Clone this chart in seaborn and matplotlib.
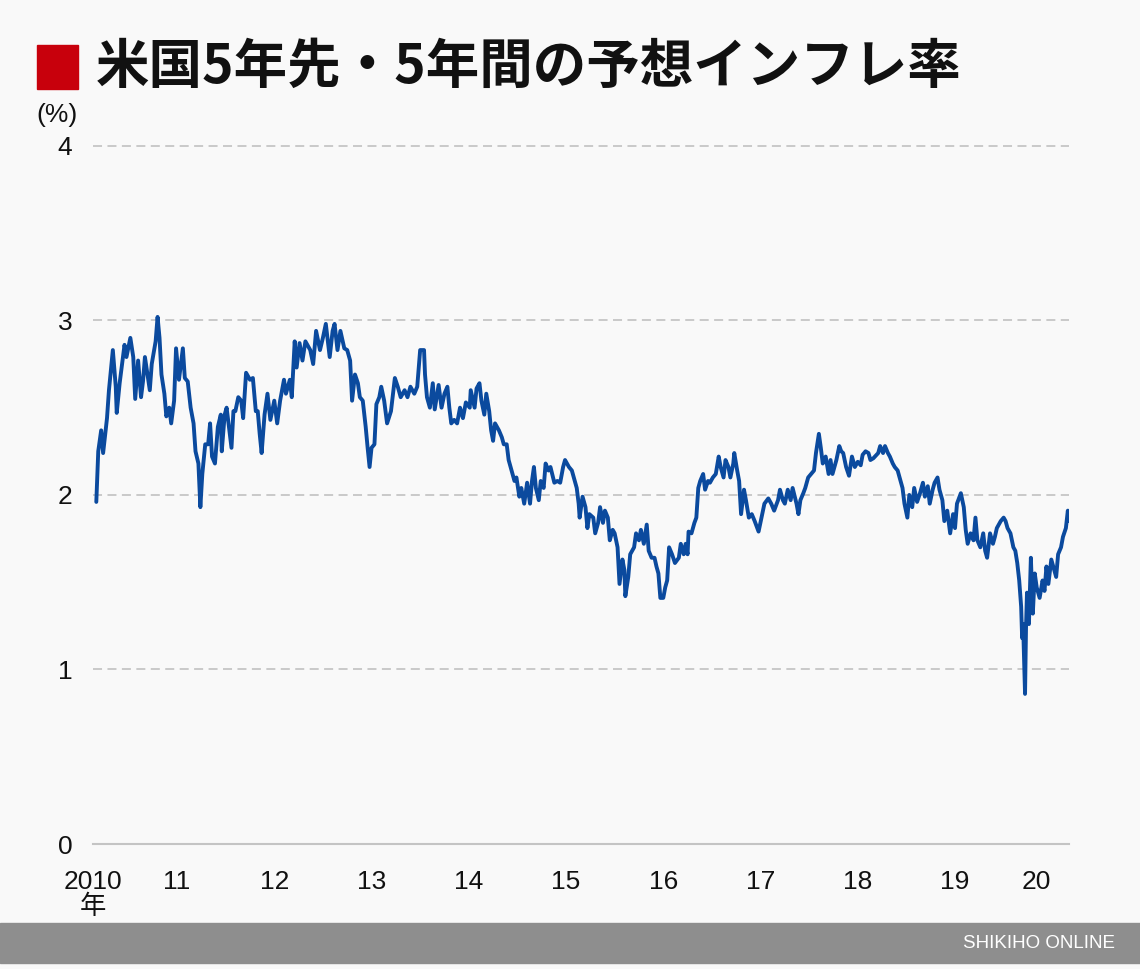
import matplotlib
matplotlib.use("Agg")
import pandas as pd
import matplotlib.pyplot as plt
import seaborn as sns
from matplotlib.patches import Rectangle

# readings: decimal year and 5y5y forward inflation expectation (%)
t = [
    # 2010
    2010.67, 2010.69, 2010.72, 2010.74, 2010.78, 2010.80, 2010.84, 2010.87, 2010.88, 2010.91, 2010.93, 2010.96, 2010.98,
    # 2011
    2011.02, 2011.05, 2011.07, 2011.10, 2011.13, 2011.15, 2011.17, 2011.22, 2011.24, 2011.28, 2011.30, 2011.32, 2011.34,
    2011.37, 2011.39, 2011.42, 2011.44, 2011.47, 2011.49, 2011.52, 2011.56, 2011.58, 2011.61, 2011.64, 2011.67, 2011.69,
    2011.72, 2011.74, 2011.76, 2011.79, 2011.82, 2011.84, 2011.86, 2011.89, 2011.92, 2011.95, 2011.96, 2011.99,
    # 2012
    2012.01, 2012.06, 2012.08, 2012.10, 2012.13, 2012.16, 2012.18, 2012.21, 2012.25, 2012.28, 2012.31, 2012.33, 2012.35,
    2012.37, 2012.40, 2012.43, 2012.46, 2012.50, 2012.53, 2012.56, 2012.60, 2012.62, 2012.66, 2012.68, 2012.71, 2012.73,
    2012.76, 2012.79, 2012.82, 2012.87, 2012.90, 2012.93, 2012.97,
    # 2013
    2013.00, 2013.03, 2013.07, 2013.10, 2013.12, 2013.15, 2013.18, 2013.22, 2013.25, 2013.28, 2013.30, 2013.33, 2013.36,
    2013.38, 2013.41, 2013.44, 2013.46, 2013.48, 2013.50, 2013.53, 2013.55, 2013.58, 2013.60, 2013.63, 2013.66, 2013.70,
    2013.74, 2013.77, 2013.80, 2013.84, 2013.87, 2013.90, 2013.94, 2013.97,
    # 2014
    2014.00, 2014.04, 2014.05, 2014.07, 2014.10, 2014.13, 2014.15, 2014.19, 2014.22, 2014.25, 2014.28, 2014.30, 2014.32,
    2014.35, 2014.38, 2014.41, 2014.44, 2014.47, 2014.51, 2014.52, 2014.56, 2014.58, 2014.61, 2014.63, 2014.66, 2014.68,
    2014.71, 2014.73, 2014.75, 2014.77, 2014.81, 2014.84, 2014.86, 2014.89, 2014.91, 2014.93, 2014.97, 2014.99,
    # 2015
    2015.02, 2015.04, 2015.07, 2015.10, 2015.13, 2015.15, 2015.17, 2015.19, 2015.22, 2015.24, 2015.27, 2015.29, 2015.32,
    2015.34, 2015.38, 2015.41, 2015.44, 2015.47, 2015.49, 2015.53, 2015.56, 2015.58, 2015.61, 2015.63, 2015.64, 2015.67,
    2015.70, 2015.72, 2015.74, 2015.78, 2015.80, 2015.83, 2015.85, 2015.88, 2015.90, 2015.93, 2015.95, 2015.98,
    # 2016
    2016.00, 2016.03, 2016.05, 2016.08, 2016.10, 2016.11, 2016.14, 2016.16, 2016.20, 2016.22, 2016.25, 2016.27, 2016.30,
    2016.33, 2016.35, 2016.38, 2016.41, 2016.43, 2016.45, 2016.47, 2016.50, 2016.52, 2016.54, 2016.56, 2016.59, 2016.62,
    2016.66, 2016.68, 2016.71, 2016.73, 2016.75, 2016.76, 2016.79, 2016.82, 2016.84, 2016.86, 2016.88, 2016.91, 2016.93,
    2016.96, 2016.98,
    # 2017
    2017.01, 2017.04, 2017.07, 2017.09, 2017.12, 2017.14, 2017.17, 2017.19, 2017.22, 2017.23, 2017.26, 2017.28, 2017.30,
    2017.33, 2017.35, 2017.38, 2017.41, 2017.44, 2017.48, 2017.51, 2017.54, 2017.58, 2017.61, 2017.64, 2017.68, 2017.70,
    2017.73, 2017.75, 2017.78, 2017.81, 2017.83, 2017.87, 2017.89, 2017.91, 2017.94, 2017.96, 2017.99,
    # 2018
    2018.02, 2018.05, 2018.07, 2018.10, 2018.12, 2018.14, 2018.17, 2018.20, 2018.22, 2018.24, 2018.28, 2018.31, 2018.33,
    2018.35, 2018.38, 2018.41, 2018.44, 2018.47, 2018.50, 2018.53, 2018.55, 2018.58, 2018.61, 2018.63, 2018.66, 2018.71,
    2018.73, 2018.76, 2018.78, 2018.81, 2018.83, 2018.86, 2018.88, 2018.91, 2018.93, 2018.96, 2018.98,
    # 2019
    2019.01, 2019.03, 2019.06, 2019.08, 2019.11, 2019.14, 2019.17, 2019.19, 2019.22, 2019.24, 2019.27, 2019.29, 2019.32,
    2019.34, 2019.37, 2019.39, 2019.42, 2019.45, 2019.48, 2019.50, 2019.52, 2019.56, 2019.59, 2019.61, 2019.63, 2019.66,
    2019.69, 2019.71, 2019.73, 2019.76, 2019.79, 2019.81, 2019.83, 2019.86, 2019.89, 2019.91, 2019.93, 2019.97,
    # 2020
    2020.00, 2020.02, 2020.04, 2020.07, 2020.10, 2020.12, 2020.14, 2020.16, 2020.18, 2020.19, 2020.20, 2020.22, 2020.23,
    2020.24, 2020.26, 2020.28, 2020.30, 2020.32, 2020.34, 2020.37, 2020.40, 2020.42, 2020.44, 2020.46, 2020.49, 2020.51,
    2020.54, 2020.56, 2020.59, 2020.61, 2020.64, 2020.66, 2020.67,
]
rate = [
    # 2010
    1.96, 2.25, 2.37, 2.24, 2.44, 2.60, 2.83, 2.62, 2.47, 2.64, 2.73, 2.86, 2.79,
    # 2011
    2.90, 2.79, 2.55, 2.77, 2.56, 2.65, 2.79, 2.60, 2.75, 2.88, 3.02, 2.90, 2.69,
    2.58, 2.45, 2.50, 2.41, 2.54, 2.84, 2.66, 2.84, 2.67, 2.65, 2.50, 2.41, 2.25,
    2.18, 1.93, 2.12, 2.29, 2.29, 2.41, 2.22, 2.18, 2.39, 2.46, 2.25, 2.46,
    # 2012
    2.50, 2.27, 2.48, 2.48, 2.56, 2.54, 2.44, 2.70, 2.66, 2.67, 2.48, 2.48, 2.35,
    2.24, 2.46, 2.58, 2.43, 2.54, 2.41, 2.54, 2.66, 2.58, 2.66, 2.56, 2.88, 2.73,
    2.87, 2.77, 2.88, 2.83, 2.75, 2.94, 2.83,
    # 2013
    2.90, 2.98, 2.79, 2.94, 2.98, 2.83, 2.94, 2.84, 2.83, 2.77, 2.54, 2.69, 2.64,
    2.56, 2.54, 2.39, 2.27, 2.16, 2.27, 2.29, 2.52, 2.56, 2.62, 2.54, 2.41, 2.48,
    2.67, 2.62, 2.56, 2.60, 2.56, 2.62, 2.58, 2.62,
    # 2014
    2.83, 2.83, 2.69, 2.56, 2.50, 2.64, 2.49, 2.63, 2.50, 2.58, 2.62, 2.50, 2.41,
    2.43, 2.41, 2.50, 2.44, 2.53, 2.50, 2.60, 2.50, 2.61, 2.64, 2.54, 2.46, 2.58,
    2.48, 2.37, 2.31, 2.41, 2.37, 2.33, 2.29, 2.29, 2.20, 2.16, 2.08, 2.10,
    # 2015
    1.99, 2.04, 1.95, 2.07, 1.95, 2.08, 2.16, 2.04, 1.97, 2.08, 2.04, 2.18, 2.14,
    2.16, 2.07, 2.08, 2.07, 2.16, 2.20, 2.16, 2.14, 2.10, 2.04, 1.95, 1.87, 1.99,
    1.93, 1.81, 1.89, 1.87, 1.78, 1.84, 1.93, 1.84, 1.91, 1.87, 1.74, 1.80,
    # 2016
    1.78, 1.70, 1.49, 1.63, 1.57, 1.42, 1.53, 1.66, 1.70, 1.78, 1.74, 1.80, 1.72,
    1.83, 1.68, 1.64, 1.64, 1.59, 1.55, 1.41, 1.41, 1.47, 1.51, 1.70, 1.66, 1.61,
    1.64, 1.72, 1.66, 1.72, 1.66, 1.79, 1.78, 1.84, 1.87, 2.04, 2.08, 2.12, 2.03,
    2.08, 2.07,
    # 2017
    2.10, 2.12, 2.22, 2.16, 2.10, 2.20, 2.16, 2.10, 2.18, 2.24, 2.14, 2.08, 1.89,
    2.03, 1.97, 1.87, 1.89, 1.85, 1.79, 1.87, 1.95, 1.98, 1.95, 1.91, 1.97, 2.03,
    1.97, 1.95, 2.03, 1.97, 2.04, 1.95, 1.89, 1.97, 2.01, 2.04, 2.10,
    # 2018
    2.12, 2.14, 2.24, 2.35, 2.27, 2.18, 2.22, 2.12, 2.20, 2.12, 2.20, 2.28, 2.25,
    2.24, 2.16, 2.11, 2.22, 2.16, 2.19, 2.17, 2.23, 2.25, 2.24, 2.20, 2.21, 2.24,
    2.28, 2.24, 2.28, 2.24, 2.22, 2.18, 2.16, 2.14, 2.10, 2.04, 1.95,
    # 2019
    1.87, 2.00, 1.93, 2.04, 1.96, 2.01, 2.07, 1.99, 2.05, 1.95, 2.03, 2.07, 2.10,
    2.03, 1.97, 1.85, 1.91, 1.78, 1.89, 1.81, 1.95, 2.01, 1.93, 1.80, 1.72, 1.78,
    1.74, 1.87, 1.74, 1.70, 1.78, 1.68, 1.64, 1.78, 1.72, 1.76, 1.81, 1.85,
    # 2020
    1.87, 1.85, 1.81, 1.78, 1.70, 1.68, 1.61, 1.51, 1.36, 1.18, 1.26, 0.86, 1.24,
    1.44, 1.26, 1.64, 1.32, 1.55, 1.47, 1.41, 1.51, 1.45, 1.59, 1.49, 1.63, 1.59,
    1.53, 1.66, 1.70, 1.76, 1.81, 1.91, 1.85,
]

x_start, x_end = 2010.672, 2020.672
year_ticks = [x_start, 2011, 2012, 2013, 2014, 2015, 2016, 2017, 2018, 2019, 2020]
label_pos = [2010.636, 2011.5, 2012.5, 2013.5, 2014.5, 2015.5, 2016.5, 2017.5, 2018.5, 2019.5, 2020.336]
year_labels = ["2010\n年", "11", "12", "13", "14", "15", "16", "17", "18", "19", "20"]
y_ticks = [0, 1, 2, 3, 4]

title = "米国5年先・5年間の予想インフレ率"
unit = "(%)"
credit = "SHIKIHO ONLINE"

bg = "#f9f9f9"
line_color = "#0b4a9e"

sns.set_theme(style="white")
plt.rcParams['font.family'] = ['Liberation Sans', 'Noto Sans CJK JP', 'DejaVu Sans']

W, H = 1140, 969
fig = plt.figure(figsize=(W / 100, H / 100), dpi=100, facecolor=bg)
ax = fig.add_axes([93 / W, 1 - 844 / H, (1069 - 93) / W, (844 - 145) / H])
ax.set_facecolor(bg)

df = pd.DataFrame({"year": t, "rate": rate})
sns.lineplot(data=df, x="year", y="rate", color=line_color, linewidth=2.8,
             estimator=None, sort=False, ax=ax, zorder=3)

ax.set_xlim(x_start, x_end)
ax.set_ylim(0, 4.005)
ax.set_xlabel("")
ax.set_ylabel("")

# dashed horizontal guides
for yv in y_ticks[1:]:
    ax.axhline(yv, color="#c6c6c6", linewidth=1.3, linestyle=(0, (5, 3)), zorder=1, clip_on=False)

for side in ["top", "right", "left"]:
    ax.spines[side].set_visible(False)
ax.spines["bottom"].set_color("#c4c4c4")
ax.spines["bottom"].set_linewidth(1.5)
ax.spines["bottom"].set_zorder(2)

ax.set_yticks(y_ticks)
ax.set_yticklabels([str(v) for v in y_ticks])
ax.tick_params(axis="y", length=0, pad=15, labelsize=19, labelcolor="#111111")

ax.set_xticks(year_ticks)
ax.set_xticklabels([])
ax.tick_params(axis="x", which="major", direction="out", length=11.5, width=1.3, color="#c4c4c4")
ax.set_xticks(label_pos, minor=True)
ax.set_xticklabels(year_labels, minor=True, linespacing=1.0)
ax.tick_params(axis="x", which="minor", length=0, pad=19, labelsize=19, labelcolor="#111111")

# title with red square
fig.patches.append(Rectangle((37 / W, 1 - 89 / H), 41 / W, 44 / H, transform=fig.transFigure,
                             color="#c8000c", zorder=5))
fig.text(96 / W, 1 - 67 / H, title, fontsize=38.5, fontweight="bold", va="center", ha="left",
         family=["Noto Sans CJK JP", "DejaVu Sans"], color="#111111")
fig.text(36 / W, 1 - 115 / H, unit, fontsize=19, va="center", ha="left", color="#111111")

# footer band
fig.patches.append(Rectangle((0, 1 - 963 / H), 1, 40 / H, transform=fig.transFigure,
                             color="#8e8e8e", zorder=5))
fig.text(1115 / W, 1 - 943 / H, credit, fontsize=13.5, color="white", ha="right", va="center", zorder=6)

fig.savefig("out.png", dpi=100, facecolor=bg)
